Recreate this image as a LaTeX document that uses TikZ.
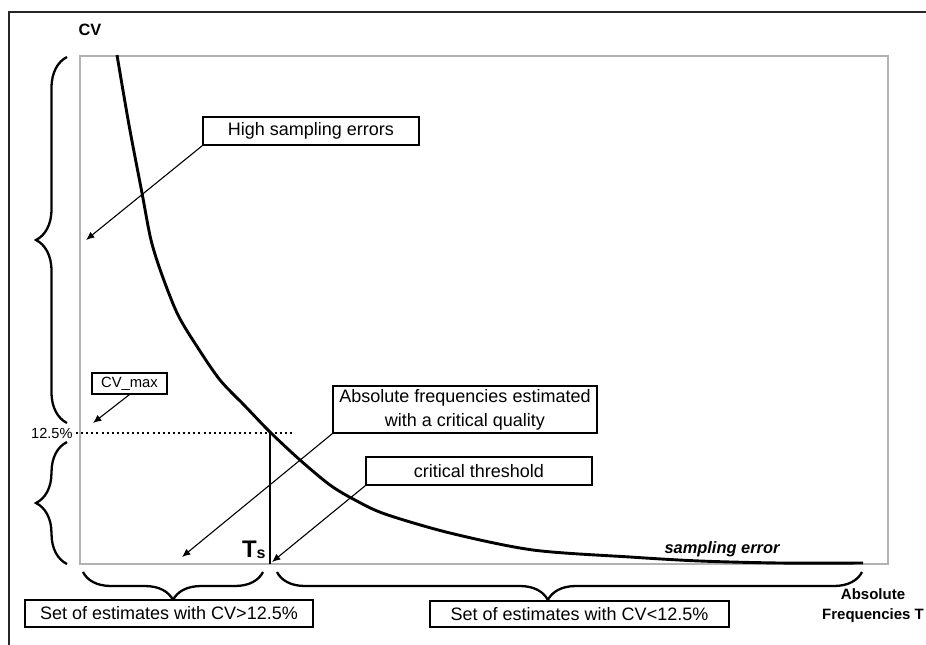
\documentclass[tikz,border=0pt]{standalone}
\usepackage{fontspec}
\setmainfont{Liberation Sans}
\usetikzlibrary{decorations.pathreplacing,arrows.meta}
\begin{document}
\begin{tikzpicture}[x=0.5pt,y=-0.5pt,
  lbl/.style={draw=black, line width=0.55pt, fill=white, inner sep=0pt, align=center, font=\fontsize{9}{12}\selectfont},
  ptr/.style={line width=0.55pt, -{Latex[length=4.2pt,width=3.6pt]}},
  brc/.style={decorate, decoration={brace, amplitude=#1}, line width=1.15pt},
  curvestyle/.style={line width=1.45pt, line join=round},
  plain/.style={inner sep=0pt}]
\useasboundingbox (0,0) rectangle (926,644);
\clip (0,0) rectangle (926,644);
% outer frame
\draw[black!85, line width=0.9pt] (9,12) rectangle (945,665);
% plot area
\draw[gray!60, line width=0.8pt] (80,56) rectangle (888,564);
% axis labels
\node[plain, font=\fontsize{8.2}{10}\selectfont\bfseries] (cv) at (90,30) {CV};
\node[plain, font=\fontsize{7.5}{10}\selectfont\bfseries, align=center] (absf) at (873,606) {Absolute\\Frequencies T};
% 12.5% level
\node[plain, anchor=east, font=\fontsize{7.3}{9}\selectfont] (lev) at (73,433) {12.5\%};
\coordinate (dotA) at (76,433);
\coordinate (dotB) at (293,433);
\draw[line width=1pt, dash pattern=on 1pt off 1.55pt] (dotA) -- (dotB);
% curve
\draw[curvestyle] plot[smooth, tension=0.5] coordinates {(117,55) (129,125) (142,193) (151,240) (162,275) (178,315) (198,348) (220,380) (245,406) (270,432) (300,460) (330,485) (355,500) (385,514) (450,533) (533,550) (630,557) (700,561) (780,563) (863,563)};
% threshold line
\coordinate (tsTop) at (270,433);
\coordinate (tsBot) at (270,564);
\draw[line width=1.45pt] (tsTop) -- (tsBot);
\node[plain, anchor=base east, font=\fontsize{12}{12}\selectfont\bfseries] (ts) at (266,557) {T{\fontsize{8}{8}\selectfont\raisebox{-0.8pt}{s}}};
\node[plain, anchor=base, font=\fontsize{8.2}{10}\selectfont\bfseries\itshape] (serr) at (722,553) {sampling error};
% braces
\coordinate (b1a) at (67,423); \coordinate (b1b) at (67,57);
\draw[brc=15.5pt] (b1a) -- (b1b);
\coordinate (b2a) at (67,564); \coordinate (b2b) at (67,442);
\draw[brc=15.5pt] (b2a) -- (b2b);
\coordinate (b3a) at (263,572); \coordinate (b3b) at (83,572);
\draw[brc=14pt] (b3a) -- (b3b);
\coordinate (b4a) at (862,572); \coordinate (b4b) at (277,572);
\draw[decorate, decoration={brace, amplitude=14pt, aspect=0.537}, line width=1.15pt] (b4a) -- (b4b);
% label boxes
\node[lbl, minimum width=108pt, minimum height=14pt] (high) at (311,131) {High sampling errors};
\node[lbl, minimum width=37.5pt, minimum height=10.5pt, font=\fontsize{7.4}{9}\selectfont] (cvmax) at (129.5,383.5) {CV\_max};
\node[lbl, minimum width=132pt, minimum height=23.5pt] (absq) at (465,409.5) {Absolute frequencies estimated\\with a critical quality};
\node[lbl, minimum width=113pt, minimum height=14pt] (crit) at (479,471) {critical threshold};
\node[lbl, minimum width=144pt, minimum height=13.5pt] (setgt) at (169,613.5) {Set of estimates with CV>12.5\%};
\node[lbl, minimum width=149.5pt, minimum height=13pt] (setlt) at (579.5,614) {Set of estimates with CV<12.5\%};
% pointers
\coordinate (pHigh) at (86,240);
\coordinate (pCv) at (93,423);
\coordinate (pAbs) at (182,557);
\coordinate (pCrit) at (272,562);
\draw[ptr] (high.south west) -- (pHigh);
\draw[ptr] (cvmax.south) -- (pCv);
\draw[ptr] (absq.south west) -- (pAbs);
\draw[ptr] (crit.south west) -- (pCrit);
\end{tikzpicture}
\end{document}
